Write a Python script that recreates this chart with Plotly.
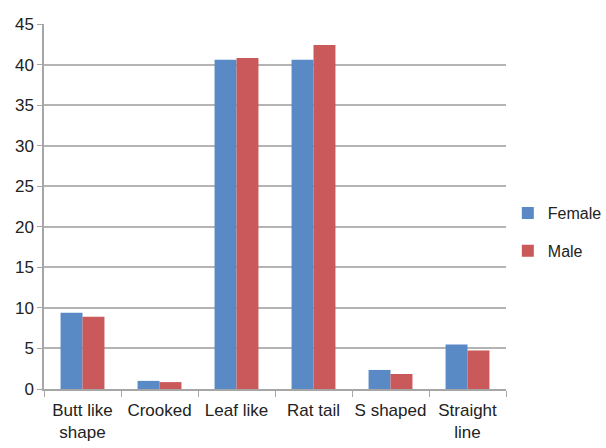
import plotly.graph_objects as go

categories = ["Butt like<br>shape", "Crooked", "Leaf like", "Rat tail", "S shaped", "Straight<br>line"]
female = [9.4, 1.0, 40.6, 40.6, 2.35, 5.5]
male = [8.9, 0.85, 40.8, 42.4, 1.85, 4.75]
y_ticks = [0, 5, 10, 15, 20, 25, 30, 35, 40, 45]

fig = go.Figure()
fig.add_trace(go.Bar(name="Female", x=categories, y=female,
                     marker=dict(color="#5A8AC6", line=dict(width=0)),
                     legendgroup="f"))
fig.add_trace(go.Bar(name="Male", x=categories, y=male,
                     marker=dict(color="#C9595A", line=dict(width=0)),
                     legendgroup="m"))

fig.update_layout(
    width=606, height=448,
    margin=dict(l=44, r=100, t=24, b=59, autoexpand=False),
    paper_bgcolor="white", plot_bgcolor="white",
    barmode="group", bargap=0.43, bargroupgap=0,
    font=dict(family="Liberation Sans, Arial, sans-serif", size=17, color="#222222"),
    legend=dict(xref="container", yref="container", x=0.838, y=0.482,
                xanchor="left", yanchor="middle",
                tracegroupgap=14, traceorder="grouped",
                font=dict(size=16), itemwidth=30),
    showlegend=True,
)
fig.update_xaxes(
    type="category", showline=True, linecolor="#A6A6A6", linewidth=1.5,
    ticks="outside", tickson="boundaries", ticklen=6, tickcolor="#A6A6A6",
    showgrid=False, tickfont=dict(size=17), tickangle=0, automargin=False,
    ticklabelstandoff=5,
)
fig.update_yaxes(
    range=[0, 45], tickvals=y_ticks, showline=True, linecolor="#A6A6A6", linewidth=1.5,
    ticks="outside", ticklen=5, tickcolor="#A6A6A6",
    showgrid=True, gridcolor="#B4B4B4", gridwidth=1.5, zeroline=False,
    tickfont=dict(size=17), automargin=False,
)

fig.write_html("out.html")
